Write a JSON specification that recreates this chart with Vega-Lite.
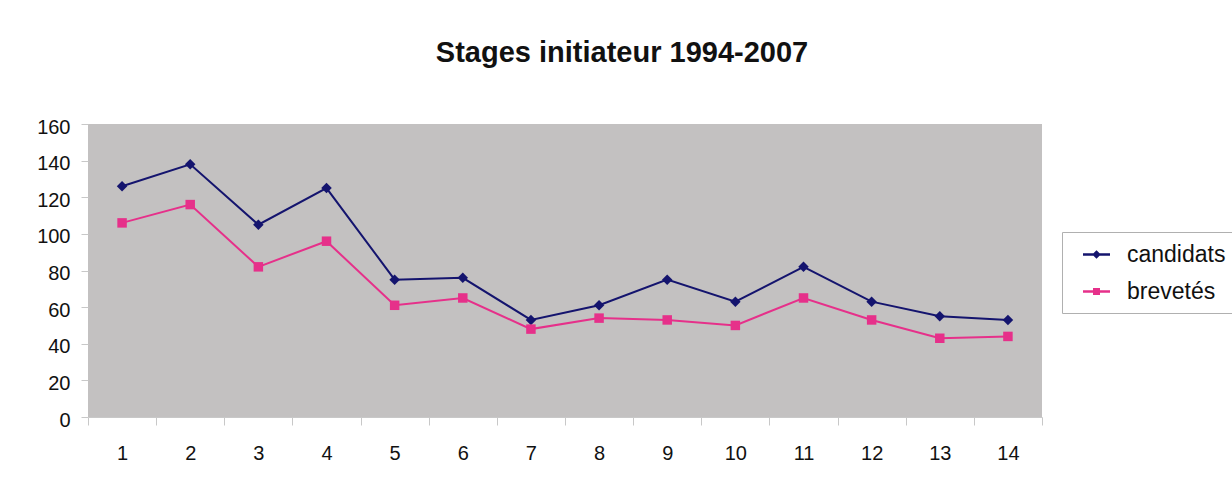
{
  "$schema": "https://vega.github.io/schema/vega-lite/v6.json",
  "width": 954,
  "height": 293,
  "autosize": {"type": "none"},
  "padding": {"left": 88, "top": 124, "right": 190, "bottom": 69},
  "background": "white",
  "title": {
    "text": "Stages initiateur 1994-2007",
    "font": "Liberation Sans",
    "fontSize": 29,
    "fontWeight": "bold",
    "color": "#111111",
    "anchor": "middle",
    "dx": 57,
    "offset": 49
  },
  "config": {
    "view": {"fill": "#c3c1c1", "stroke": null},
    "font": "Liberation Sans"
  },
  "data": {
    "values": [
      {"stage": 1, "serie": "candidats", "value": 126},
      {"stage": 2, "serie": "candidats", "value": 138},
      {"stage": 3, "serie": "candidats", "value": 105},
      {"stage": 4, "serie": "candidats", "value": 125},
      {"stage": 5, "serie": "candidats", "value": 75},
      {"stage": 6, "serie": "candidats", "value": 76},
      {"stage": 7, "serie": "candidats", "value": 53},
      {"stage": 8, "serie": "candidats", "value": 61},
      {"stage": 9, "serie": "candidats", "value": 75},
      {"stage": 10, "serie": "candidats", "value": 63},
      {"stage": 11, "serie": "candidats", "value": 82},
      {"stage": 12, "serie": "candidats", "value": 63},
      {"stage": 13, "serie": "candidats", "value": 55},
      {"stage": 14, "serie": "candidats", "value": 53},
      {"stage": 1, "serie": "brevetés", "value": 106},
      {"stage": 2, "serie": "brevetés", "value": 116},
      {"stage": 3, "serie": "brevetés", "value": 82},
      {"stage": 4, "serie": "brevetés", "value": 96},
      {"stage": 5, "serie": "brevetés", "value": 61},
      {"stage": 6, "serie": "brevetés", "value": 65},
      {"stage": 7, "serie": "brevetés", "value": 48},
      {"stage": 8, "serie": "brevetés", "value": 54},
      {"stage": 9, "serie": "brevetés", "value": 53},
      {"stage": 10, "serie": "brevetés", "value": 50},
      {"stage": 11, "serie": "brevetés", "value": 65},
      {"stage": 12, "serie": "brevetés", "value": 53},
      {"stage": 13, "serie": "brevetés", "value": 43},
      {"stage": 14, "serie": "brevetés", "value": 44}
    ]
  },
  "encoding": {
    "x": {
      "field": "stage",
      "type": "ordinal",
      "scale": {"type": "band", "paddingInner": 0, "paddingOuter": 0},
      "axis": {
        "title": null,
        "labelAngle": 0,
        "labelFontSize": 20,
        "labelColor": "#111111",
        "labelPadding": 18,
        "tickBand": "extent",
        "tickSize": 8,
        "tickColor": "#c8c8c8",
        "domainColor": "#c8c8c8",
        "grid": false
      }
    },
    "y": {
      "field": "value",
      "type": "quantitative",
      "scale": {"domain": [0, 160]},
      "axis": {
        "title": null,
        "values": [0, 20, 40, 60, 80, 100, 120, 140, 160],
        "labelFontSize": 20,
        "labelColor": "#111111",
        "labelPadding": 11,
        "labelOffset": 3,
        "tickSize": 7,
        "tickColor": "#c8c8c8",
        "domain": false,
        "grid": false
      }
    },
    "color": {
      "field": "serie",
      "type": "nominal",
      "scale": {"domain": ["candidats", "brevetés"], "range": ["#14146e", "#e6308a"]},
      "legend": {
        "title": null,
        "orient": "none",
        "legendX": 974,
        "legendY": 108,
        "strokeColor": "#b0b0b0",
        "fillColor": "white",
        "padding": 9,
        "labelFontSize": 23,
        "labelColor": "#111111",
        "labelOffset": 17,
        "symbolOffset": 12,
        "rowPadding": 11,
        "symbolSize": 625,
        "encode": {
          "symbols": {
            "update": {
              "shape": {"signal": "datum.value === 'candidats' ? 'M-1.02,-0.04L1.02,-0.04L1.02,0.04L-1.02,0.04ZM0,-0.26L0.26,0L0,0.26L-0.26,0Z' : 'M-1.02,-0.04L1.02,-0.04L1.02,0.04L-1.02,0.04ZM-0.22,-0.22L0.22,-0.22L0.22,0.22L-0.22,0.22Z'"},
              "fill": {"scale": "color", "field": "value"},
              "stroke": {"value": "transparent"},
              "opacity": {"value": 1},
              "fillOpacity": {"value": 1}
            }
          }
        }
      }
    }
  },
  "layer": [
    {"mark": {"type": "line", "strokeWidth": 2}},
    {
      "transform": [{"filter": "datum.serie === 'candidats'"}],
      "mark": {"type": "point", "filled": true, "opacity": 1, "size": 110, "shape": "diamond"}
    },
    {
      "transform": [{"filter": "datum.serie === 'brevetés'"}],
      "mark": {"type": "point", "filled": true, "opacity": 1, "size": 90, "shape": "square"}
    }
  ]
}
